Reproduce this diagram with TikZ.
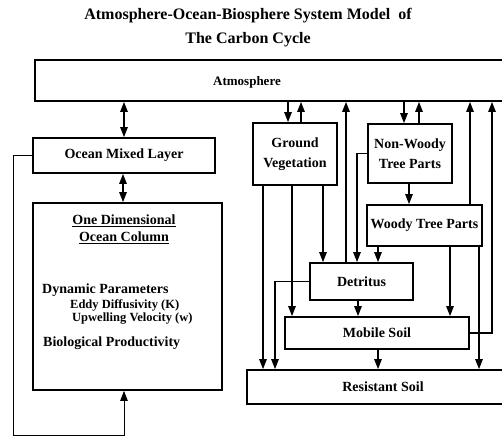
\documentclass[tikz,border=0pt]{standalone}
\usepackage{fontspec}
\setmainfont{Liberation Serif}
\usetikzlibrary{arrows.meta, positioning}

\tikzset{
	box/.style={draw, line width=1.8pt, inner sep=0pt, align=center, font=\bfseries\fontsize{14}{20}\selectfont},
	txt/.style={inner sep=0pt, align=center, font=\bfseries\fontsize{14}{17}\selectfont},
	small/.style={inner sep=0pt, anchor=west, font=\bfseries\fontsize{12.5}{14}\selectfont},
	arr/.style={line width=1.2pt, -{Triangle[length=10pt, width=7.5pt]}},
	dbl/.style={line width=1.2pt, {Triangle[length=10pt, width=7.5pt]}-{Triangle[length=10pt, width=7.5pt]}},
}

\begin{document}
\begin{tikzpicture}[x=1pt, y=-1pt]
	\useasboundingbox (0,0) rectangle (502,440);
	% title
	\node (title) [txt, font=\bfseries\fontsize{16}{24}\selectfont] at (248,28) {Atmosphere-Ocean-Biosphere System Model\ \ of\\The Carbon Cycle};
	% boxes
	\node (atm) [box, minimum width=475pt, minimum height=41pt] at (272.5,80.5) {};
	\node (atmtext) [txt, font=\bfseries\fontsize{13}{15}\selectfont] at (247,82) {Atmosphere};
	\node (oml) [box, minimum width=182pt, minimum height=35pt] at (124,155.5) {Ocean Mixed Layer};
	\node (col) [box, minimum width=189pt, minimum height=187pt] at (127.5,296.5) {};
	\node (gv) [box, minimum width=84pt, minimum height=62pt] at (295,154) {Ground\\Vegetation};
	\node (nw) [box, minimum width=84pt, minimum height=59pt] at (410,153.5) {Non-Woody\\Tree Parts};
	\node (wood) [box, minimum width=115pt, minimum height=41pt] at (424.5,225.5) {Woody Tree Parts};
	\node (det) [box, minimum width=103pt, minimum height=37pt] at (361.5,281.5) {Detritus};
	\node (mob) [box, minimum width=184pt, minimum height=32pt] at (377,333) {Mobile Soil};
	\node (res) [box, minimum width=272pt, minimum height=34pt] at (383,387) {Resistant Soil};
	% ocean column text
	\node (colhead) [txt] at (124,229) {\underline{One Dimensional}\\\underline{Ocean Column}};
	\node (dyn) [txt, anchor=west] at (42,290) {Dynamic Parameters};
	\node (eddy) [small] at (70,305) {Eddy Diffusivity (K)};
	\node (upw) [small] at (72,319) {Upwelling Velocity (w)};
	\node (bio) [txt, anchor=west] at (43,343) {Biological Productivity};
	% ocean side
	\path
		(124,0 |- atm.south) edge [dbl] (124,0 |- oml.north)
		(123,0 |- oml.south) edge [dbl] (123,0 |- col.north)
	;
	\draw [arr, line width=0.8pt] (oml.west) -| (13,435) -| (124,0 |- col.south);
	% biosphere side
	\path
		(288,0 |- atm.south) edge [arr] (288,0 |- gv.north)
		(301,0 |- gv.north) edge [arr] (301,0 |- atm.south)
		(346,0 |- det.north) edge [arr] (346,0 |- atm.south)
		(404,0 |- atm.south) edge [arr] (404,0 |- nw.north)
		(419,0 |- nw.north) edge [arr] (419,0 |- atm.south)
		(470,0 |- wood.north) edge [arr] (470,0 |- atm.south)
		(409,0 |- nw.south) edge [arr] (409,0 |- wood.north)
		(378,0 |- wood.south) edge [arr] (378,0 |- det.north)
		(450,0 |- wood.south) edge [arr] (450,0 |- mob.north)
		(479,0 |- wood.south) edge [arr] (479,0 |- res.north)
		(263,0 |- gv.south) edge [arr] (263,0 |- res.north)
		(292,0 |- gv.south) edge [arr] (292,0 |- mob.north)
		(323,0 |- gv.south) edge [arr] (323,0 |- det.north)
		(358,0 |- det.south) edge [arr] (358,0 |- mob.north)
		(378,0 |- mob.south) edge [arr] (378,0 |- res.north)
	;
	\draw [arr] (mob.east) -| (492,0 |- atm.south);
	\draw [arr] (nw.west) -| (357,0 |- det.north);
	\draw [arr] (det.west) -| (275,0 |- res.north);
\end{tikzpicture}
\end{document}
